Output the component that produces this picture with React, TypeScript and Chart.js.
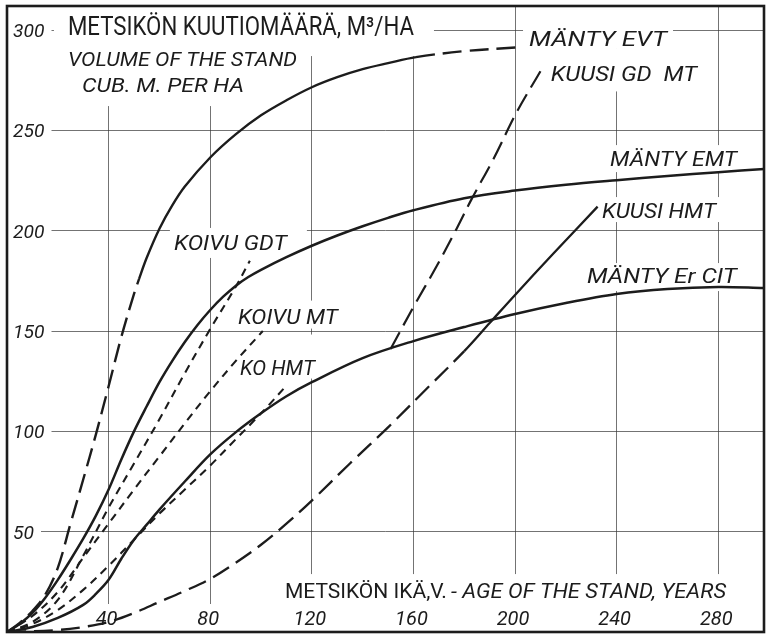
import React, { useEffect, useRef } from "react";
import { Chart, registerables } from "chart.js";

Chart.register(...registerables);

// Grid positions (and the tick labels written beside them)
const xGridYears = [40, 80, 120, 160, 200, 240, 280];
const yGridVolumes = [50, 100, 150, 200, 250, 300];

// MÄNTY EVT
const evtAge = [0, 5, 10, 15, 20, 25, 30, 35, 40, 45, 50, 52, 55, 60, 65, 70, 80, 90, 100, 110, 120, 130, 140, 150, 161, 180, 202];
const evtVol = [0, 4.5, 10.5, 18.5, 32, 54, 76, 98.5, 122.5, 147, 168.5, 176, 186.5, 201, 212.5, 222, 236.5, 248, 257.5, 265, 271.5, 276.5, 280.5, 283.5, 286.5, 289.5, 291.5];

// MÄNTY EMT
const emtAge = [0, 5, 10, 15, 20, 25, 30, 35, 40, 45, 50, 55, 60, 65, 70, 75, 80, 85, 90, 95, 100, 110, 120, 130, 140, 150, 160, 180, 200, 220, 240, 260, 280, 298];
const emtVol = [0, 4, 9.5, 17, 26, 36, 46.5, 58, 71, 86, 100, 112.5, 124.5, 135, 144.5, 153, 160.5, 167, 172.5, 176.9, 180.5, 186.8, 192.5, 197.6, 202.2, 206.4, 210.2, 216.2, 220, 222.9, 225.2, 227.3, 229.2, 230.7];

// MÄNTY Er CIT
const erCitAge = [0, 10, 20, 30, 35, 40, 45, 50, 55, 60, 70, 80, 90, 100, 110, 120, 140, 160, 180, 200, 220, 240, 260, 280, 298];
const erCitVol = [0, 2.5, 7, 13.5, 19, 26, 36.5, 46, 53.5, 61, 75, 88.5, 99.5, 109, 117.5, 124.5, 136.5, 145, 152, 158.5, 164, 168.5, 171, 172, 171.5];

// KOIVU GDT
const koivuGdtAge = [0, 10, 20, 30, 40, 50, 60, 70, 80, 90, 95.6];
const koivuGdtVol = [0, 5, 16, 38, 62, 84, 106, 129, 151, 172, 185];

// KOIVU MT
const koivuMtAge = [0, 10, 20, 30, 40, 50, 60, 70, 80, 90, 100.7];
const koivuMtVol = [0, 8, 20, 37, 54, 71, 87.5, 104, 120, 135, 150];

// KO HMT
const koHmtAge = [0, 10, 20, 30, 40, 50, 60, 70, 80, 90, 97, 103, 109.4];
const koHmtVol = [0, 4, 11, 21, 33, 46, 59, 71, 83, 96, 105, 113, 122];

// KUUSI HMT
const kuusiHmtAge = [0, 20, 30, 40, 50, 60, 70, 80, 90, 100, 110, 120, 135, 150, 165, 180, 190, 200, 215, 232.5];
const kuusiHmtVol = [0, 1, 2.5, 5, 9.5, 15, 20.5, 26.5, 34.5, 43.5, 54, 65.5, 84, 102, 121, 140, 154, 168, 188.5, 212];

// KUUSI GD MT (branch leaving the Er CIT curve)
const kuusiGdMtAge = [151, 160, 169, 177, 183, 191.6, 200.6, 210];
const kuusiGdMtVol = [141, 162, 182, 201, 216, 236, 259, 279.5];

const INK = "#1c1c1c";
const GRID = "rgba(55,55,55,0.7)";
const LONG_DASH = [19, 8];
const SHORT_DASH = [8, 6];
const FONT = "Roboto, 'DejaVu Sans', sans-serif";

type Note = {
  text: string;
  age: number; // left edge of the text
  vol: number; // vertical centre of the text
  size: number;
  width: number;
  italic: boolean;
  pad: [number, number, number, number]; // clear space: left, top, right, bottom
};

// Lettering placed on the chart, anchored in age / volume units
const notes: Note[] = [
  { text: "METSIKÖN KUUTIOMÄÄRÄ, M³/HA", age: 24.0, vol: 302.0, size: 26, width: 346, italic: false, pad: [14, 20, 20, 30] },
  { text: "VOLUME OF THE STAND", age: 24.0, vol: 285.6, size: 20, width: 229, italic: true, pad: [8, 8, 8, 14] },
  { text: "CUB. M. PER HA", age: 29.5, vol: 272.6, size: 20, width: 162, italic: true, pad: [12, 12, 10, 21] },
  { text: "MÄNTY EVT", age: 205.5, vol: 295.6, size: 21, width: 138, italic: true, pad: [6, 33, 6, 10] },
  { text: "KUUSI GD  MT", age: 214.1, vol: 278.4, size: 21, width: 146, italic: true, pad: [6, 25, 6, 18] },
  { text: "MÄNTY EMT", age: 237.4, vol: 236.2, size: 21, width: 127, italic: true, pad: [5, 13, 5, 14] },
  { text: "KUUSI HMT", age: 234.2, vol: 210.3, size: 21, width: 114, italic: true, pad: [5, 13, 5, 12] },
  { text: "MÄNTY Er CIT", age: 228.3, vol: 177.9, size: 21, width: 150, italic: true, pad: [5, 12, 5, 16] },
  { text: "KOIVU GDT", age: 65.7, vol: 194.4, size: 21, width: 113, italic: true, pad: [4, 14, 20, 16] },
  { text: "KOIVU MT", age: 90.9, vol: 157.2, size: 21, width: 100, italic: true, pad: [4, 16, 6, 12] },
  { text: "KO HMT", age: 91.7, vol: 131.8, size: 21, width: 75, italic: true, pad: [4, 33, 4, 11] },
  { text: "METSIKÖN IKÄ,V.", age: 109.4, vol: 20.9, size: 21, width: 162, italic: false, pad: [6, 16, 3, 14] },
  { text: "- AGE OF THE STAND, YEARS", age: 174.8, vol: 20.9, size: 21, width: 275, italic: true, pad: [3, 16, 6, 14] },
];

const pts = (a: number[], v: number[]) => a.map((x, i) => ({ x, y: v[i] }));

function setFont(ctx: CanvasRenderingContext2D, size: number, italic: boolean) {
  ctx.font = `${italic ? "italic " : ""}400 ${size}px ${FONT}`;
}

function drawText(ctx: CanvasRenderingContext2D, text: string, x: number, yMid: number, size: number, italic: boolean, width?: number) {
  setFont(ctx, size, italic);
  const w = ctx.measureText(text).width;
  const sx = width ? width / w : 1;
  ctx.save();
  ctx.translate(x, yMid + size * 0.36);
  ctx.scale(sx, 1);
  ctx.textBaseline = "alphabetic";
  ctx.textAlign = "left";
  ctx.fillText(text, 0, 0);
  ctx.restore();
}

const lettering = {
  id: "lettering",
  beforeDatasetsDraw(chart: any) {
    const ctx: CanvasRenderingContext2D = chart.ctx;
    const xs = chart.scales.x;
    const ys = chart.scales.y;
    const area = chart.chartArea;
    const Y_LABEL = 19;
    const X_LABEL = 20;
    ctx.save();

    // clear space behind all lettering
    ctx.fillStyle = "#ffffff";
    for (const n of notes) {
      const x = xs.getPixelForValue(n.age);
      const y = ys.getPixelForValue(n.vol);
      const [l, t, r, b] = n.pad;
      ctx.fillRect(x - l, y - t, n.width + l + r, t + b);
    }
    for (const v of yGridVolumes) {
      const y = ys.getPixelForValue(v);
      ctx.fillRect(area.left + 1, y - 10, 10.5 * String(v).length + 12, 20);
    }
    for (const v of xGridYears) {
      const x = xs.getPixelForValue(v);
      setFont(ctx, X_LABEL, true);
      const w = ctx.measureText(String(v)).width;
      ctx.fillRect(x - w / 2 - 5, area.bottom - 28, w + 8, 27);
    }

    ctx.fillStyle = INK;
    for (const n of notes) {
      drawText(ctx, n.text, xs.getPixelForValue(n.age), ys.getPixelForValue(n.vol), n.size, n.italic, n.width);
    }
    for (const v of yGridVolumes) {
      const s = String(v);
      drawText(ctx, s, area.left + 6, ys.getPixelForValue(v), Y_LABEL, true, 10.5 * s.length);
    }
    for (const v of xGridYears) {
      const s = String(v);
      setFont(ctx, X_LABEL, true);
      const w = ctx.measureText(s).width;
      drawText(ctx, s, xs.getPixelForValue(v) - w / 2 - 2, area.bottom - 14, X_LABEL, true);
    }
    ctx.restore();
  },
  afterDatasetsDraw(chart: any) {
    const ctx: CanvasRenderingContext2D = chart.ctx;
    const a = chart.chartArea;
    ctx.save();
    ctx.strokeStyle = INK;
    ctx.lineWidth = 2.6;
    ctx.strokeRect(a.left, a.top, a.right - a.left, a.bottom - a.top);
    ctx.restore();
  },
};

function curve(label: string, age: number[], vol: number[], width: number, dash: number[], dashed?: (x0: number, x1: number) => boolean) {
  return {
    label,
    data: pts(age, vol),
    borderColor: INK,
    borderWidth: width,
    borderDash: dashed ? [] : dash,
    pointRadius: 0,
    fill: false,
    tension: 0.35,
    segment: dashed
      ? { borderDash: (c: any) => (dashed(c.p0.parsed.x, c.p1.parsed.x) ? dash : []) }
      : undefined,
  };
}

export default function App() {
  const ref = useRef<HTMLCanvasElement>(null);

  useEffect(() => {
    if (!ref.current) return;
    const chart = new Chart(ref.current, {
      type: "line",
      data: {
        datasets: [
          curve("MÄNTY EVT", evtAge, evtVol, 2.4, LONG_DASH, (x0, x1) => x1 <= 52 || x0 >= 161),
          curve("MÄNTY EMT", emtAge, emtVol, 2.5, []),
          curve("MÄNTY Er CIT", erCitAge, erCitVol, 2.5, []),
          curve("KOIVU GDT", koivuGdtAge, koivuGdtVol, 2.1, SHORT_DASH),
          curve("KOIVU MT", koivuMtAge, koivuMtVol, 2.1, SHORT_DASH),
          curve("KO HMT", koHmtAge, koHmtVol, 2.1, SHORT_DASH),
          curve("KUUSI HMT", kuusiHmtAge, kuusiHmtVol, 2.3, LONG_DASH, (_x0, x1) => x1 <= 180),
          curve("KUUSI GD MT", kuusiGdMtAge, kuusiGdMtVol, 2.2, LONG_DASH),
        ] as any,
      },
      options: {
        animation: false,
        responsive: true,
        maintainAspectRatio: false,
        layout: { padding: { left: 7, top: 6, right: 5, bottom: 3 } },
        plugins: { legend: { display: false }, tooltip: { enabled: false } },
        scales: {
          x: {
            type: "linear",
            min: 0,
            max: 298,
            afterBuildTicks: (s: any) => {
              s.ticks = xGridYears.map((value) => ({ value }));
            },
            ticks: { display: false },
            grid: { color: GRID, lineWidth: 1, drawTicks: false },
            border: { display: false },
          },
          y: {
            type: "linear",
            min: 0,
            max: 312,
            afterBuildTicks: (s: any) => {
              s.ticks = yGridVolumes.map((value) => ({ value }));
            },
            ticks: { display: false },
            grid: { color: GRID, lineWidth: 1, drawTicks: false },
            border: { display: false },
          },
        },
      },
      plugins: [lettering],
    });
    return () => chart.destroy();
  }, []);

  return (
    <div style={{ position: "absolute", left: 0, top: 0, width: 769, height: 635, background: "#ffffff" }}>
      <canvas ref={ref} />
    </div>
  );
}
